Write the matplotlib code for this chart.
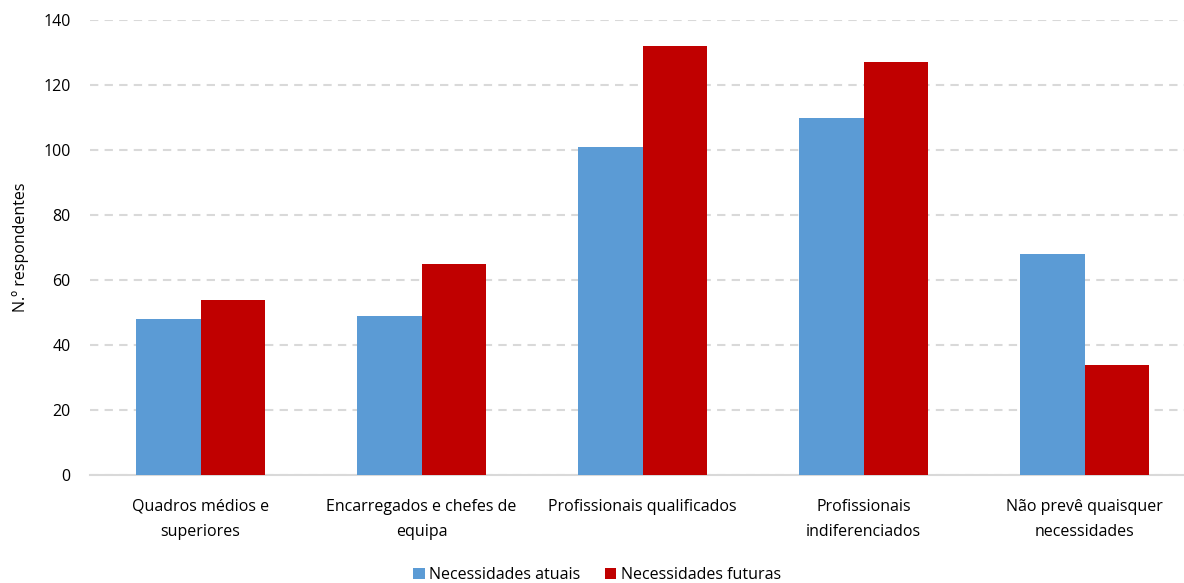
import matplotlib
matplotlib.use("Agg")
import matplotlib.pyplot as plt
import numpy as np

categories = ["Quadros médios e\nsuperiores", "Encarregados e chefes de\nequipa",
              "Profissionais qualificados", "Profissionais\nindiferenciados",
              "Não prevê quaisquer\nnecessidades"]
atuais = [48, 49, 101, 110, 68]
futuras = [54, 65, 132, 127, 34]
series_names = ["Necessidades atuais", "Necessidades futuras"]
yticks = [0, 20, 40, 60, 80, 100, 120, 140]

plt.rcParams['font.family'] = ['Open Sans', 'DejaVu Sans']

W, H = 1184, 583
fig = plt.figure(figsize=(W/100, H/100), dpi=100)
left, right, top, bottom = 90, 1195, 20, 475
ax = fig.add_axes([left/W, 1-bottom/H, (right-left)/W, (bottom-top)/H])

x = np.arange(len(categories))
w = 0.29
blue = "#5b9bd5"
red = "#c00000"
ax.bar(x - w/2, atuais, w, color=blue, label=series_names[0], zorder=3)
ax.bar(x + w/2, futuras, w, color=red, label=series_names[1], zorder=3)

ax.set_xlim(-0.5, len(categories)-0.5)
ax.set_ylim(0, 140)
ax.set_yticks(yticks)
ax.yaxis.grid(True, color="#d9d9d9", linestyle=(0, (4, 3)), linewidth=1.5, zorder=0)
for s in ["top", "right", "left"]:
    ax.spines[s].set_visible(False)
ax.spines["bottom"].set_color("#d9d9d9")
ax.spines["bottom"].set_linewidth(1.5)
ax.tick_params(axis="both", length=0, labelsize=11.5, colors="black")
ax.tick_params(axis="x", pad=17)
ax.tick_params(axis="y", pad=14)
ax.set_xticks(x)
ax.set_xticklabels(categories, linespacing=1.75)
ax.set_ylabel("N.º respondentes", fontsize=11.5, labelpad=10)

handles, labels = ax.get_legend_handles_labels()
fig.legend(handles, labels, loc="upper center", bbox_to_anchor=(597/W, 1-553/H),
           ncol=2, frameon=False, fontsize=11.5, handlelength=0.7, handleheight=0.7,
           columnspacing=1.5, handletextpad=0.3)

fig.savefig("out.png", dpi=100)
